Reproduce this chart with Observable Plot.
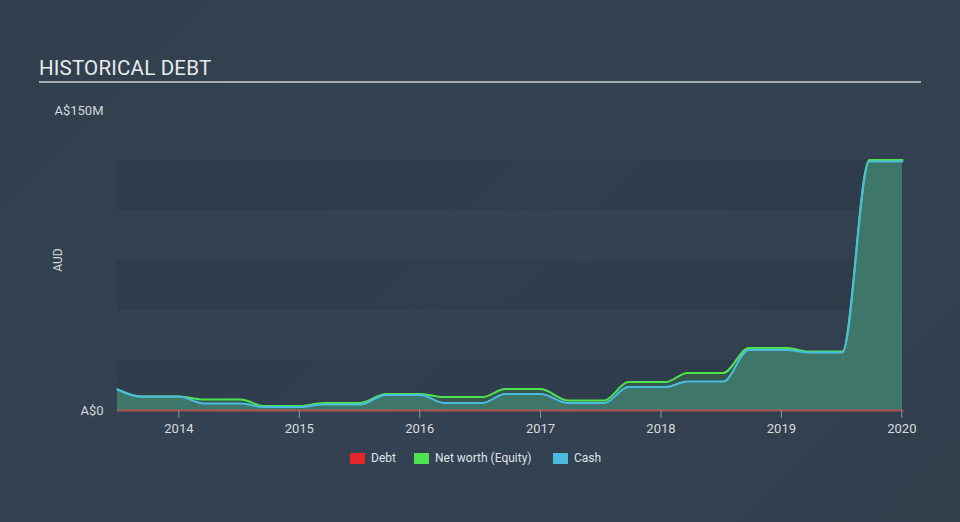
<!DOCTYPE html>
<html>
<head>
<meta charset="utf-8">
<script src="https://cdn.jsdelivr.net/npm/d3@7"></script>
<script src="https://cdn.jsdelivr.net/npm/@observablehq/plot@0.6"></script>
<style>
  html, body { margin: 0; padding: 0; }
  body { width: 960px; height: 522px; overflow: hidden; font-family: Roboto, "Noto Sans", sans-serif;
         background: linear-gradient(135deg, #313e4d 0%, #344354 50%, #313e4c 100%); }
  #wrap { position: relative; width: 960px; height: 522px; }
  #title { position: absolute; left: 39px; top: 56px; font-size: 20.5px; color: #e8eaec; letter-spacing: 0.2px; }
  #rule { position: absolute; left: 39px; top: 81px; width: 882px; height: 2px; background: #a9adb2; }
  #ylab { position: absolute; left: 58px; top: 260px; transform: translate(-50%, -50%) rotate(-90deg); font-size: 12px; color: #d3d6da; }
  #legend { position: absolute; top: 451px; left: 0; width: 960px; font-size: 12px; color: #dfe2e5; }
  .li { position: absolute; display: flex; align-items: center; }
  .sw { width: 15px; height: 11px; margin-right: 6px; }
  svg { position: absolute; left: 0; top: 0; }
</style>
</head>
<body>
<div id="wrap">
  <div id="chart"></div>
  <div id="title">HISTORICAL DEBT</div>
  <div id="rule"></div>
  <div id="ylab">AUD</div>
  <div id="legend"></div>
</div>
<script>
const dates = ["2013-06-29","2013-09-07","2014-01-01","2014-03-18","2014-07-07","2014-09-15","2015-01-04","2015-03-15","2015-07-05","2015-09-20","2016-01-04","2016-03-14","2016-07-09","2016-09-16","2017-01-01","2017-03-26","2017-07-13","2017-09-24","2018-01-15","2018-03-22","2018-07-09","2018-09-24","2019-01-19","2019-03-22","2019-07-05","2019-09-24","2020-01-03"];
const equity = [10.5,7,7,5.5,5.5,2.3,2.3,3.8,3.8,8.3,8.3,6.7,6.7,10.7,10.7,5,5,14.2,14.2,18.8,18.8,31.3,31.3,29.5,29.5,125.2,125.2];
const cash   = [10.5,7,7,3.5,3.5,1.7,1.7,3.0,3.0,7.8,7.8,3.8,3.8,8.2,8.2,3.7,3.7,11.7,11.7,14.5,14.5,30.3,30.3,29,29,124.5,124.5];
const debt   = dates.map(() => 0);
const yTicks = [0, 150];
const yTickLabels = ["A$0", "A$150M"];
const xTicks = ["2014-01-01","2015-01-01","2016-01-01","2017-01-01","2018-01-01","2019-01-01","2020-01-01"];
const bandLo = [0, 50, 100];
const bandHi = [25, 75, 125];
const legendNames = ["Debt", "Net worth (Equity)", "Cash"];
const legendColors = ["#e5262b", "#4fe24f", "#4bbbe0"];

const rows = dates.map((d, i) => ({date: new Date(d), equity: equity[i], cash: cash[i], debt: debt[i]}));
const bands = bandLo.map((lo, i) => ({lo, hi: bandHi[i]}));

const chart = Plot.plot({
  width: 960,
  height: 522,
  marginLeft: 117,
  marginRight: 58,
  marginTop: 110,
  marginBottom: 112,
  style: {background: "transparent", fontFamily: "Roboto, sans-serif", fontSize: "13px", color: "#d3d6da", overflow: "visible"},
  x: {type: "utc", domain: [new Date("2013-06-29"), new Date("2020-01-03")]},
  y: {domain: [0, 150]},
  marks: [
    Plot.rect(bands, {y1: "lo", y2: "hi", fill: "#000", fillOpacity: 0.07}),
    Plot.areaY(rows, {x: "date", y: "equity", curve: "monotone-x", fill: "#35584c"}),
    Plot.areaY(rows, {x: "date", y: "cash", curve: "monotone-x", fill: "#3e7669"}),
    Plot.line(rows, {x: "date", y: "equity", curve: "monotone-x", stroke: legendColors[1], strokeWidth: 2}),
    Plot.line(rows, {x: "date", y: "cash", curve: "monotone-x", stroke: legendColors[2], strokeWidth: 2}),
    Plot.line(rows, {x: "date", y: "debt", stroke: "#e0574f", strokeOpacity: 0.7, strokeWidth: 2}),
    Plot.axisX({ticks: xTicks.map(d => new Date(d)), tickFormat: d => String(d.getUTCFullYear()), tickSize: 8, tickPadding: 5, stroke: "#8a95a3", strokeOpacity: 1, fill: "#d8dbde", label: null}),
    Plot.axisY({ticks: yTicks, tickFormat: d => yTickLabels[yTicks.indexOf(d)], tickSize: 0, tickPadding: 14, fill: "#d3d6da", label: null})
  ]
});
document.getElementById("chart").appendChild(chart);

const lg = document.getElementById("legend");
const lefts = [350, 414, 553];
legendNames.forEach((n, i) => {
  const el = document.createElement("div");
  el.className = "li";
  el.style.left = lefts[i] + "px";
  el.innerHTML = `<span class="sw" style="background:${legendColors[i]}"></span><span>${n}</span>`;
  lg.appendChild(el);
});
</script>
</body>
</html>
